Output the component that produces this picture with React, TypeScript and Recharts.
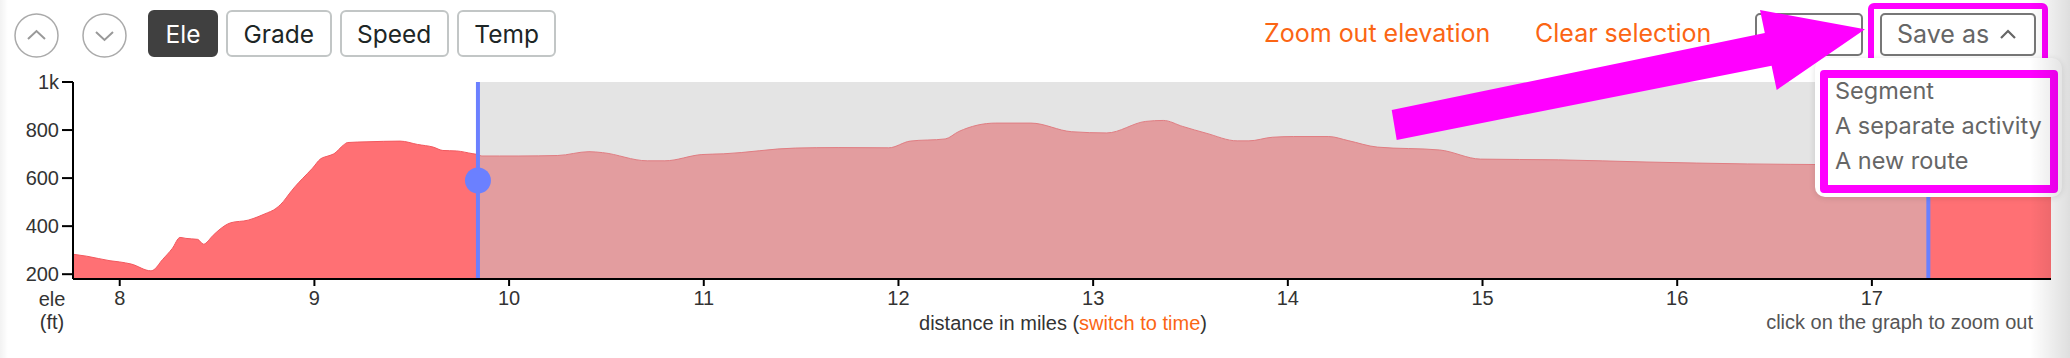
import React from "react";
import { ComposedChart, Area, XAxis, YAxis, ReferenceLine, ReferenceDot } from "recharts";

// distance (mi) and elevation (ft)
const miles = [
  7.76, 7.83, 7.95, 8.0, 8.06, 8.16, 8.17, 8.22, 8.27, 8.31, 8.34, 8.4, 8.43, 8.48, 8.51, 8.57,
  8.66, 8.71, 8.76, 8.79, 8.84, 8.87, 8.9, 8.94, 8.99, 9.03, 9.07, 9.1, 9.15, 9.17, 9.27, 9.44,
  9.53, 9.61, 9.66, 9.73, 9.81, 9.84, 9.86, 9.95, 10.05, 10.25, 10.41, 10.48, 10.71, 10.8, 10.99,
  11.1, 11.47, 11.69, 11.95, 12.06, 12.24, 12.31, 12.5, 12.68, 12.89, 13.07, 13.27, 13.36, 13.46,
  13.58, 13.74, 13.8, 13.92, 14.03, 14.21, 14.31, 14.46, 14.78, 14.99, 15.39, 15.84, 16.36, 16.8,
  17.29, 17.6, 17.92,
];
const elevation = [
  283, 275, 256, 251, 242, 214, 216, 261, 307, 353, 349, 345, 325, 362, 384, 414,
  425, 439, 456, 467, 502, 534, 564, 599, 641, 679, 692, 701, 738, 748, 751, 754,
  740, 729, 715, 713, 702, 698, 692, 692, 692, 694, 710, 706, 672, 672, 698,
  701, 725, 727, 726, 754, 763, 794, 829, 829, 793, 788, 836, 840, 815,
  787, 755, 755, 770, 773, 773, 756, 729, 717, 679, 676, 667, 659, 656,
  653, 651, 649,
];
const xTicks = [8, 9, 10, 11, 12, 13, 14, 15, 16, 17];
const yTicks = [200, 400, 600, 800, 1000];
const selStart = 9.84;
const selEnd = 17.29;
const cursorMile = 9.84;
const cursorEle = 590;
const modes = ["Ele", "Grade", "Speed", "Temp"];
const saveOptions = ["Segment", "A separate activity", "A new route"];

const data = miles.map((m, i) => {
  const inSel = m >= selStart && m <= selEnd;
  return {
    mile: m,
    band: inSel ? 1000 : null,
    inside: inSel ? elevation[i] : null,
    outside: m <= selStart || m >= selEnd ? elevation[i] : null,
  };
});

const ORANGE = "#fb6514";
const BLUE = "#6b80ff";
const UI_FONT = "Inter, 'Noto Sans', sans-serif";
const AXIS_FONT = "'Liberation Sans', Arial, sans-serif";

function Circle({ left, up }: { left: number; up: boolean }) {
  return (
    <div style={{ position: "absolute", left, top: 12.5, width: 45, height: 45 }}>
      <svg width={45} height={45}>
        <circle cx={22.5} cy={22.5} r={21.5} fill="#fff" stroke="#aaa" strokeWidth={1.5} />
        <polyline
          points={up ? "14,26 22.5,18 31,26" : "14,19 22.5,27 31,19"}
          fill="none"
          stroke="#999"
          strokeWidth={2}
        />
      </svg>
    </div>
  );
}

export default function App() {
  return (
    <div style={{ position: "absolute", left: 0, top: 0, width: 2070, height: 358, background: "#fff", overflow: "hidden" }}>
      <div style={{ position: "absolute", left: 0, top: 0, fontFamily: AXIS_FONT }}>
        <ComposedChart width={2070} height={358} data={data} margin={{ top: 82, right: 19, left: 0, bottom: 49 }}>
          <XAxis
            dataKey="mile"
            type="number"
            domain={[7.76, 17.92]}
            ticks={xTicks}
            allowDataOverflow
            height={30}
            tickSize={7}
            tickMargin={5}
            axisLine={{ stroke: "#000", strokeWidth: 2 }}
            tickLine={{ stroke: "#000", strokeWidth: 2 }}
            tick={{ fill: "#333", fontSize: 20 }}
          />
          <YAxis
            type="number"
            domain={[180, 1000]}
            ticks={yTicks}
            allowDataOverflow
            width={73}
            tickSize={11}
            tickMargin={3}
            axisLine={{ stroke: "#000", strokeWidth: 2 }}
            tickLine={{ stroke: "#000", strokeWidth: 2 }}
            tick={{ fill: "#333", fontSize: 20 }}
            tickFormatter={(v: number) => (v >= 1000 ? `${v / 1000}k` : `${v}`)}
          />
          <Area dataKey="band" type="linear" fill="#e4e4e4" fillOpacity={1} stroke="none" isAnimationActive={false} activeDot={false} />
          <Area dataKey="inside" type="monotone" fill="#e39d9f" fillOpacity={1} stroke="#e07d82" strokeWidth={1} isAnimationActive={false} activeDot={false} />
          <Area dataKey="outside" type="monotone" fill="#ff7074" fillOpacity={1} stroke="#f2585e" strokeWidth={1} isAnimationActive={false} activeDot={false} />
          <ReferenceLine x={selStart} stroke={BLUE} strokeWidth={4} />
          <ReferenceLine x={selEnd} stroke={BLUE} strokeWidth={4} />
          <ReferenceDot x={cursorMile} y={cursorEle} r={13} fill={BLUE} stroke="none" />
        </ComposedChart>
      </div>

      {/* axis captions */}
      <div style={{ position: "absolute", left: 22, top: 288, width: 60, textAlign: "center", fontFamily: AXIS_FONT, fontSize: 20, lineHeight: "23px", color: "#333" }}>
        ele
        <br />
        (ft)
      </div>
      <div style={{ position: "absolute", left: 863, top: 311, width: 400, textAlign: "center", fontFamily: AXIS_FONT, fontSize: 20, lineHeight: "24px", color: "#333" }}>
        distance in miles (<span style={{ color: ORANGE }}>switch to time</span>)
      </div>
      <div style={{ position: "absolute", left: 1633, top: 310, width: 400, textAlign: "right", fontFamily: AXIS_FONT, fontSize: 20, lineHeight: "24px", color: "#555" }}>
        click on the graph to zoom out
      </div>

      {/* top bar */}
      <Circle left={13.5} up />
      <Circle left={82} up={false} />
      <div style={{ position: "absolute", left: 148, top: 10, display: "flex", gap: 8, fontFamily: UI_FONT, fontSize: 24.5 }}>
        {modes.map((m, i) => (
          <div
            key={m}
            style={{
              height: 47,
              boxSizing: "border-box",
              padding: "0 15.5px",
              display: "flex",
              alignItems: "center",
              borderRadius: 6,
              border: i === 0 ? "2px solid #404040" : "2px solid #c2c6c6",
              background: i === 0 ? "#404040" : "#fff",
              color: i === 0 ? "#fff" : "#1d2626",
            }}
          >
            {m}
          </div>
        ))}
      </div>
      <div style={{ position: "absolute", left: 1264, top: 9, height: 47, display: "flex", alignItems: "center", fontFamily: UI_FONT, fontSize: 25, color: ORANGE }}>
        Zoom out elevation
      </div>
      <div style={{ position: "absolute", left: 1535, top: 9, height: 47, display: "flex", alignItems: "center", fontFamily: UI_FONT, fontSize: 25, color: ORANGE }}>
        Clear selection
      </div>
      <div style={{ position: "absolute", left: 1755, top: 12.5, width: 108, height: 43.5, boxSizing: "border-box", border: "2px solid #777", borderRadius: 5, background: "#fff" }} />
      <div style={{ position: "absolute", left: 1880, top: 12.5, width: 156, height: 43.5, boxSizing: "border-box", border: "2px solid #777", borderRadius: 5, background: "#fff", display: "flex", alignItems: "center", paddingLeft: 15, fontFamily: UI_FONT, fontSize: 25, color: "#666" }}>
        Save as
        <svg width={18} height={12} style={{ marginLeft: 10 }}>
          <polyline points="2,10 9,3 16,10" fill="none" stroke="#666" strokeWidth={2.2} />
        </svg>
      </div>
      <div style={{ position: "absolute", left: 1868, top: 2.5, width: 180, height: 64, boxSizing: "border-box", border: "6px solid #ff00ff", borderRadius: 6 }} />

      {/* save-as dropdown */}
      <div style={{ position: "absolute", left: 1815, top: 58, width: 247, height: 139, background: "#fff", borderRadius: 10, boxShadow: "0 1px 6px rgba(0,0,0,0.12)" }} />
      <div style={{ position: "absolute", left: 1820, top: 70, width: 238, height: 123, boxSizing: "border-box", border: "8px solid #ff00ff", borderRadius: 4 }} />
      {saveOptions.map((s, i) => (
        <div key={s} style={{ position: "absolute", left: 1835, top: 76 + i * 35, height: 30, lineHeight: "30px", fontFamily: UI_FONT, fontSize: 23.5, color: "#666", whiteSpace: "nowrap" }}>
          {s}
        </div>
      ))}

      {/* edge shading */}
      <div style={{ position: "absolute", left: 0, top: 0, width: 8, height: 358, background: "linear-gradient(to right, rgba(0,0,0,0.05), rgba(0,0,0,0))" }} />
      <div style={{ position: "absolute", left: 2030, top: 0, width: 40, height: 358, background: "linear-gradient(to right, rgba(0,0,0,0), rgba(0,0,0,0.13))" }} />

      {/* annotation arrow */}
      <svg width={2070} height={358} style={{ position: "absolute", left: 0, top: 0 }}>
        <polygon
          points="1391.7,110 1764.8,33 1760,10 1865,29.3 1776.7,90 1771.6,65.7 1396.7,140"
          fill="#ff00ff"
        />
      </svg>
    </div>
  );
}
